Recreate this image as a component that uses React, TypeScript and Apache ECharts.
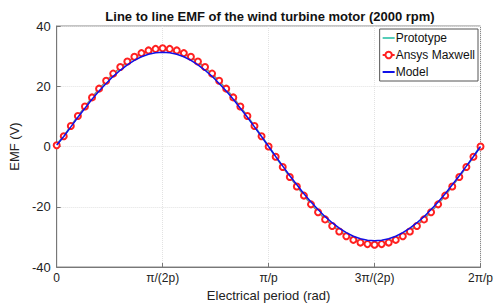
import React, { useEffect, useRef } from "react";
import * as echarts from "echarts";

// electrical angle in degrees (0 .. 360 == 0 .. 2π/p)
const angles: number[] = [
  0, 6, 12, 18, 24, 30, 36, 42, 48, 54, 60, 66, 72, 78, 84, 90, 96, 102, 108, 114,
  120, 126, 132, 138, 144, 150, 156, 162, 168, 174, 180, 186, 192, 198, 204, 210,
  216, 222, 228, 234, 240, 246, 252, 258, 264, 270, 276, 282, 288, 294, 300, 306,
  312, 318, 324, 330, 336, 342, 348, 354, 360,
];

const prototype: number[] = [
  0.6, 3.4, 6.7, 10.0, 13.1, 16.2, 19.0, 21.6, 24.0, 26.1, 28.0, 29.5, 30.7, 31.6, 32.1, 32.3,
  32.1, 31.6, 30.7, 29.5, 28.0, 26.1, 24.0, 21.6, 19.0, 16.2, 13.1, 10.0, 6.7, 3.4, 0,
  -3.4, -6.7, -10.0, -13.1, -16.2, -19.0, -21.6, -24.0, -26.1, -28.0, -29.5, -30.7, -31.6, -32.1, -32.3,
  -32.1, -31.6, -30.7, -29.5, -28.0, -26.1, -24.0, -21.6, -19.0, -16.2, -13.1, -10.0, -6.7, -3.4, 0.2,
];

const maxwell: number[] = [
  0.4, 3.4, 6.8, 10.1, 13.3, 16.3, 19.2, 21.8, 24.2, 26.4, 28.2, 29.8, 31.0, 31.9, 32.4, 32.6,
  32.4, 31.9, 31.0, 29.8, 28.2, 26.4, 24.2, 21.8, 19.2, 16.3, 13.3, 10.1, 6.8, 3.4, 0,
  -3.4, -6.8, -10.1, -13.3, -16.3, -19.2, -21.8, -24.2, -26.4, -28.2, -29.8, -31.0, -31.9, -32.4, -32.6,
  -32.4, -31.9, -31.0, -29.8, -28.2, -26.4, -24.2, -21.8, -19.2, -16.3, -13.3, -10.1, -6.8, -3.4, 0,
];

const model: number[] = [
  0.5, 3.3, 6.5, 9.7, 12.7, 15.7, 18.4, 20.9, 23.3, 25.3, 27.1, 28.6, 29.8, 30.6, 31.1, 31.3,
  31.1, 30.6, 29.8, 28.6, 27.1, 25.3, 23.3, 20.9, 18.4, 15.7, 12.7, 9.7, 6.5, 3.3, 0,
  -3.3, -6.5, -9.7, -12.7, -15.7, -18.4, -20.9, -23.3, -25.3, -27.1, -28.6, -29.8, -30.6, -31.1, -31.3,
  -31.1, -30.6, -29.8, -28.6, -27.1, -25.3, -23.3, -20.9, -18.4, -15.7, -12.7, -9.7, -6.5, -3.3, 0,
];

const xTickValues: number[] = [0, 90, 180, 270, 360];
const xTickLabels: string[] = ["0", "π/(2p)", "π/p", "3π/(2p)", "2π/p"];

const FONT = "Liberation Sans, Arial, sans-serif";

export default function App() {
  const ref = useRef<HTMLDivElement>(null);
  useEffect(() => {
    if (!ref.current) return;
    document.body.style.margin = "0";
    const chart = echarts.init(ref.current, undefined, { renderer: "svg" });
    const pair = (ys: number[]) => angles.map((a, i) => [a, ys[i]]);
    chart.setOption({
      animation: false,
      backgroundColor: "#ffffff",
      title: {
        text: "Line to line EMF of the wind turbine motor (2000 rpm)",
        left: 265,
        textAlign: "center",
        top: 5,
        textStyle: { fontFamily: FONT, fontSize: 13, fontWeight: "bold", color: "#111" },
      },
      legend: {
        orient: "vertical",
        right: 18,
        top: 29,
        backgroundColor: "#fff",
        borderColor: "#555",
        borderWidth: 1,
        borderRadius: 0,
        padding: [3, 3, 3, 2],
        itemWidth: 12,
        itemHeight: 8,
        itemGap: 5,
        textStyle: { fontFamily: FONT, fontSize: 12, color: "#111", padding: [0, 0, 0, -4] },
        data: [
          { name: "Prototype", itemStyle: { opacity: 0 } },
          { name: "Ansys Maxwell" },
          { name: "Model", itemStyle: { opacity: 0 } },
        ],
      },
      grid: { left: 48, right: 14, top: 26, bottom: 41, show: true, borderColor: "#888", borderWidth: 1 },
      xAxis: {
        type: "value",
        min: 0,
        max: 360,
        interval: 90,
        name: "Electrical period (rad)",
        nameLocation: "middle",
        nameGap: 22,
        nameTextStyle: { fontFamily: FONT, fontSize: 13, color: "#222" },
        axisLine: { show: true, onZero: false, lineStyle: { color: "#777" } },
        axisTick: { show: true, inside: true, length: 4, lineStyle: { color: "#777" } },
        axisLabel: {
          fontFamily: FONT,
          fontSize: 12,
          color: "#222",
          margin: 5,
          formatter: (v: number) => {
            const i = xTickValues.indexOf(v);
            return i >= 0 ? xTickLabels[i] : "";
          },
        },
        splitLine: { show: true, lineStyle: { color: "#e2e2e2", type: "dotted" } },
      },
      yAxis: {
        type: "value",
        min: -40,
        max: 40,
        interval: 20,
        name: "EMF (V)",
        nameLocation: "middle",
        nameGap: 30,
        nameTextStyle: { fontFamily: FONT, fontSize: 13, color: "#222" },
        axisLine: { show: true, lineStyle: { color: "#777" } },
        axisTick: { show: true, inside: true, length: 4, lineStyle: { color: "#777" } },
        axisLabel: { fontFamily: FONT, fontSize: 13, color: "#222", margin: 6 },
        splitLine: { show: true, lineStyle: { color: "#e2e2e2", type: "dotted" } },
      },
      series: [
        {
          name: "Prototype",
          type: "line",
          data: pair(prototype),
          showSymbol: false,
          symbol: "none",
          lineStyle: { color: "#55cdb8", width: 2 },
          itemStyle: { color: "#55cdb8" },
          z: 2,
        },
        {
          name: "Ansys Maxwell",
          type: "line",
          data: pair(maxwell),
          symbol: "emptyCircle",
          symbolSize: 6,
          showAllSymbol: true,
          lineStyle: { color: "#ff2020", width: 0.6 },
          itemStyle: { color: "#ff2020", borderWidth: 0.9 },
          z: 3,
        },
        {
          name: "Model",
          type: "line",
          data: pair(model),
          showSymbol: false,
          symbol: "none",
          lineStyle: { color: "#1010e8", width: 1.5 },
          itemStyle: { color: "#1010e8" },
          z: 4,
        },
      ],
    });
    return () => chart.dispose();
  }, []);
  return <div ref={ref} style={{ width: 496, height: 308 }} />;
}
